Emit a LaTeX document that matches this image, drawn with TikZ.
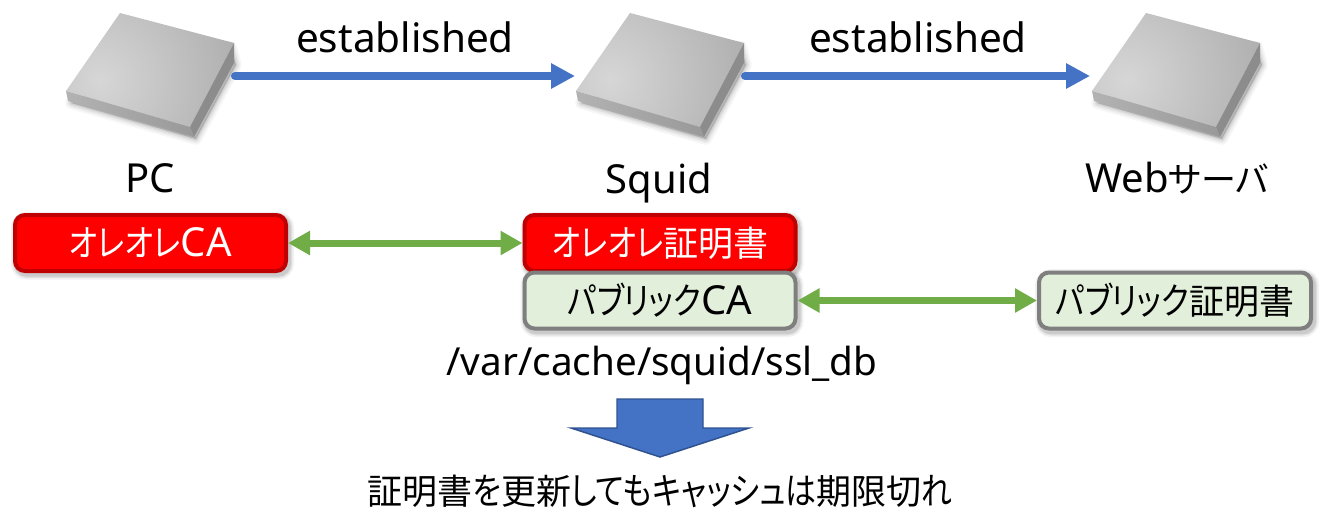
\documentclass[tikz,border=0pt]{standalone}
\usepackage{fontspec}
\setmainfont{Noto Sans}
\newfontfamily\cjk[RawFeature=+palt,Scale=0.875]{Noto Sans CJK JP}
\newfontfamily\kana[RawFeature=+palt,Scale=0.92,FakeStretch=0.84]{Noto Sans CJK JP}
\usetikzlibrary{arrows.meta}
\definecolor{arrowblue}{RGB}{68,114,196}
\definecolor{arrowgreen}{RGB}{112,173,71}
\definecolor{darkred}{RGB}{192,0,0}
\definecolor{palegreen}{RGB}{226,239,218}
\definecolor{boxgrey}{RGB}{127,127,127}
\definecolor{arrowedge}{RGB}{47,82,143}
\tikzset{
  softshadow/.style={
    preaction={draw=black,draw opacity=.05,line width=9pt,fill=none,transform canvas={shift={(1.5pt,-2pt)}}},
    preaction={draw=black,draw opacity=.07,line width=6.5pt,fill=none,transform canvas={shift={(1.5pt,-2pt)}}},
    preaction={draw=black,draw opacity=.09,line width=4.5pt,fill=none,transform canvas={shift={(1.5pt,-2pt)}}}},
  certbox/.style={rounded corners=7.5pt,line width=3pt,minimum height=42pt,inner sep=0pt,softshadow},
  redbox/.style={certbox,draw=darkred,fill=red,text=white},
  greenbox/.style={certbox,draw=boxgrey,fill=palegreen,text=black},
  label/.style={anchor=base,inner sep=0pt,font=\fontsize{30pt}{36pt}\selectfont},
  boxtext/.style={font=\fontsize{30pt}{36pt}\selectfont},
  devicenode/.style={minimum width=126.75pt,minimum height=60pt,inner sep=0pt,outer sep=0pt},
  bluearrow/.style={line width=6pt,draw=arrowblue,line cap=round,-{Triangle[length=18pt,width=18pt,fill=arrowblue]}},
  greenarrow/.style={line width=5.25pt,draw=arrowgreen,{Triangle[length=16.5pt,width=17.25pt,fill=arrowgreen]}-{Triangle[length=16.5pt,width=17.25pt,fill=arrowgreen]}}
}
\newcommand{\devicebox}[1]{%
  \begin{scope}[shift={(#1,13)}]
    \foreach \w/\o in {9pt/.03,6.5pt/.04,4pt/.05,2pt/.06}{
      \fill[black,opacity=\o,draw=black,line width=\w,line join=round]
        (5,90) -- (130,126) -- (170,52) -- (165,34) -- cycle;}
    \begin{scope}
      \clip (0,78) -- (54,0) -- (168,30) -- (124,114) -- cycle;
      \shade[inner color=white!84!black,outer color=white!66!black] (34,67) circle (165);
    \end{scope}
    \shade[left color=white!70!black,right color=white!60!black] (0,78) -- (124,114) -- (128,124) -- (2,88) -- cycle;
    \fill[white!55!black] (124,114) -- (168,30) -- (168,50) -- (128,124) -- cycle;
  \end{scope}}
\begin{document}
\begin{tikzpicture}[x=0.75pt,y=-0.75pt]
  \useasboundingbox (0,0) rectangle (1327,521);
  \fill[white] (0,0) rectangle (1327,521);
  \devicebox{66}
  \devicebox{576}
  \devicebox{1092}
  \node[devicenode] (pc) at (150.5,76) {};
  \node[devicenode] (squid) at (660.5,76) {};
  \node[devicenode] (web) at (1176.5,76) {};
  \draw[bluearrow,shorten >=0.75pt] (pc.east) -- (squid.west);
  \draw[bluearrow,shorten >=1.5pt] (squid.east) -- (web.west);
  \node[label,font=\fontsize{30.4pt}{36pt}\selectfont] (est1) at (405,52) {established};
  \node[label,font=\fontsize{30.4pt}{36pt}\selectfont] (est2) at (918,52) {established};
  \node[label] (pclabel) at (150,192) {PC};
  \node[label] (squidlabel) at (659,193) {Squid};
  \node[label] (weblabel) at (1177,192) {Web{\cjk サーバ}};
  \node[redbox,boxtext,minimum width=203.25pt] (oreca) at (150.5,243) {{\kana オレオレ}CA};
  \node[redbox,boxtext,minimum width=203.25pt] (orecert) at (660,243) {{\kana オレオレ}{\cjk 証明書}};
  \node[greenbox,boxtext,minimum width=203.25pt] (pubca) at (660,300.5) {{\kana パブリック}CA};
  \node[greenbox,boxtext,minimum width=204pt] (pubcert) at (1175,300.5) {{\kana パブリック}{\cjk 証明書}};
  \draw[greenarrow] (oreca.east) -- (orecert.west);
  \draw[greenarrow] (pubca.east) -- (pubcert.west);
  \node[label,font=\fontsize{29pt}{36pt}\selectfont] (path) at (662,375) {/var/cache/squid/ssl\_db};
  \draw[draw=arrowedge,fill=arrowblue,line width=1.1pt]
    (617,399) -- (703,399) -- (703,428) -- (749,428) -- (660,457) -- (571,428) -- (617,428) -- cycle;
  \node[label] (note) at (660,504) {{\cjk 証明書}{\kana を}{\cjk 更新}{\kana してもキャッシュは}{\cjk 期限切}{\kana れ}};
\end{tikzpicture}
\end{document}
